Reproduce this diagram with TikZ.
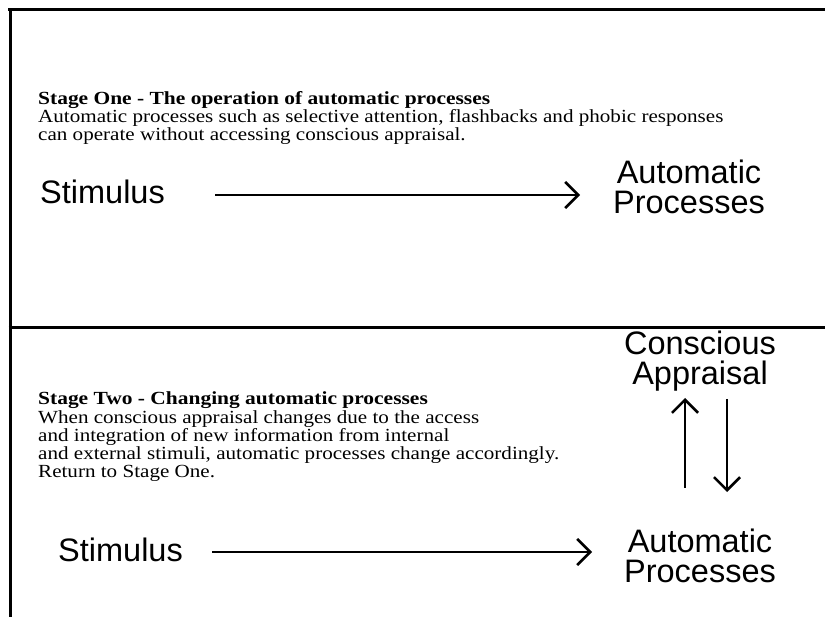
\documentclass[tikz,border=0pt]{standalone}
\usepackage{fontspec}
\setmainfont{Liberation Serif}
\newfontfamily\labelfont{Liberation Sans}
\newfontfamily\bodyfont[FakeStretch=1.14]{Liberation Serif}
\newfontfamily\headfont[FakeStretch=1.16]{Liberation Serif Bold}
\usetikzlibrary{arrows.meta}
\tikzset{
  frame/.style={line width=3pt},
  conn/.style={line width=2.8pt, -{Straight Barb[length=13pt,width=26pt,line width=2.6pt]}},
  headtext/.style={anchor=base west, inner sep=0pt, font=\headfont\fontsize{18.5}{18}\selectfont},
  bodytext/.style={anchor=base west, inner sep=0pt, font=\bodyfont\fontsize{18.5}{18}\selectfont},
  bigtext/.style={inner sep=0pt, align=center, font=\labelfont\fontsize{32.5}{30}\selectfont},
}
\begin{document}
\begin{tikzpicture}[x=1pt,y=-1pt]
\useasboundingbox (0,0) rectangle (825,617);
% frame
\draw[frame] (8,10) -- (825,10);
\draw[frame] (10,8.5) -- (10,617);
\draw[frame] (8.5,328) -- (825,328);
% Stage one
\node[headtext] (h1) at (38,105) {Stage One - The operation of automatic processes};
\node[bodytext] (b1a) at (38,123) {Automatic processes such as selective attention, flashbacks and phobic responses};
\node[bodytext] (b1b) at (38,141) {can operate without accessing conscious appraisal.};
\node[bigtext, anchor=base west] (stim1) at (40,204) {Stimulus};
\node[bigtext] (auto1) at (689,187) {Automatic\\Processes};
\coordinate (a1s) at (215,195);
\coordinate (a1e) at (580,195);
\draw[conn] (a1s) -- (a1e);
% Stage two
\node[headtext] (h2) at (38,405) {Stage Two - Changing automatic processes};
\node[bodytext] (b2a) at (38,424) {When conscious appraisal changes due to the access};
\node[bodytext] (b2b) at (38,442) {and integration of new information from internal};
\node[bodytext] (b2c) at (38,460) {and external stimuli, automatic processes change accordingly.};
\node[bodytext] (b2d) at (38,478) {Return to Stage One.};
\node[bigtext] (cons) at (700,361) {Conscious\\Appraisal};
\node[bigtext, anchor=base west] (stim2) at (58,561) {Stimulus};
\node[bigtext] (auto2) at (700,556) {Automatic\\Processes};
\coordinate (a2s) at (212,552);
\coordinate (a2e) at (592,552);
\draw[conn] (a2s) -- (a2e);
\coordinate (upS) at (685,488);
\coordinate (upE) at (685,398);
\coordinate (dnS) at (727,399);
\coordinate (dnE) at (727,492);
\draw[conn] (upS) -- (upE);
\draw[conn] (dnS) -- (dnE);
\end{tikzpicture}
\end{document}
